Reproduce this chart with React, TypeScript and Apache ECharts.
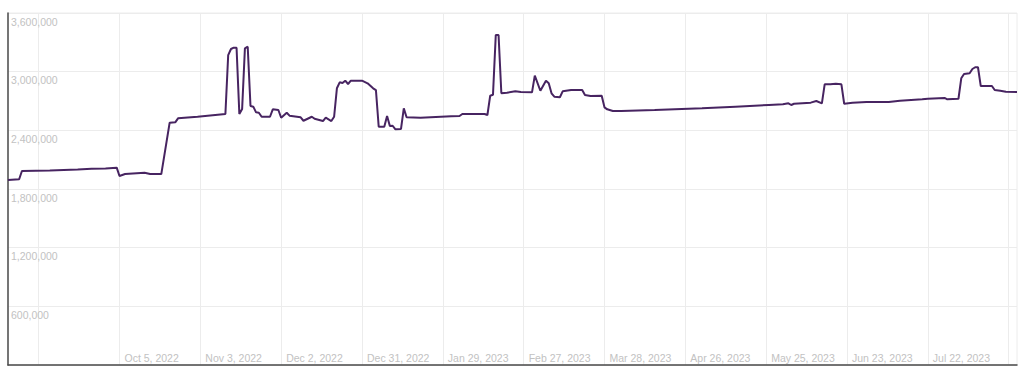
import { useEffect, useRef } from 'react';
import * as echarts from 'echarts';

const START_DATE = '2022-08-26';
const DAY_COUNT = 363;
const GRID_FIRST_DAY = 11;
const GRID_STEP_DAYS = 29;
const LABEL_FIRST_DAY = 40;
const LABEL_LAST_DAY = 330;

const Y_MIN = 0;
const Y_MAX = 3600000;
const Y_STEP = 600000;

const MONTHS = ['Jan', 'Feb', 'Mar', 'Apr', 'May', 'Jun', 'Jul', 'Aug', 'Sep', 'Oct', 'Nov', 'Dec'];

// day offsets from START_DATE of each breakpoint
const dayOffsets = [
  0, 4, 5, 15, 25, 30, 35, 39, 40, 42, 49, 51, 55, 58, 60, 61, 68, 78, 79, 80,
  81, 82, 83, 84, 85, 86, 87, 88, 89, 90, 91, 94, 95, 97, 98, 100, 101, 105, 106, 109,
  110, 113, 114, 116, 117, 118, 119, 120, 121, 122, 123, 127, 129, 131, 132, 133, 135, 136, 137, 138,
  139, 141, 142, 143, 148, 159, 162, 163, 171, 172, 173, 174, 175, 176, 177, 179, 182, 184, 188, 189,
  191, 193, 194, 195, 196, 198, 199, 202, 206, 207, 209, 213, 214, 215, 217, 220, 232, 249, 261, 273,
  278, 280, 281, 282, 288, 290, 292, 293, 295, 297, 299, 300, 303, 308, 316, 320, 328, 330, 336, 337,
  341, 342, 343, 345, 346, 347, 348, 349, 353, 354, 356, 358, 362,
];

const values = [
  1892000, 1900000, 1984000, 1990000, 2000000, 2006000, 2010000, 2018000, 1933000, 1953000,
  1967000, 1953000, 1953000, 2478000, 2482000, 2523000, 2539000, 2567000, 3170000, 3232000,
  3245000, 3245000, 2567000, 2618000, 3239000, 3255000, 2649000, 2642000, 2584000, 2580000,
  2539000, 2539000, 2615000, 2608000, 2529000, 2580000, 2550000, 2533000, 2498000, 2539000,
  2519000, 2495000, 2529000, 2495000, 2539000, 2830000, 2891000, 2884000, 2908000, 2874000,
  2908000, 2908000, 2881000, 2830000, 2812000, 2437000, 2437000, 2547000, 2444000, 2447000,
  2410000, 2414000, 2625000, 2533000, 2529000, 2543000, 2547000, 2567000, 2567000, 2557000,
  2754000, 2764000, 3375000, 3375000, 2779000, 2785000, 2799000, 2792000, 2789000, 2959000,
  2805000, 2908000, 2881000, 2779000, 2744000, 2738000, 2799000, 2812000, 2812000, 2761000,
  2751000, 2754000, 2635000, 2615000, 2598000, 2598000, 2608000, 2625000, 2642000, 2659000,
  2666000, 2676000, 2659000, 2672000, 2683000, 2700000, 2676000, 2871000, 2871000, 2877000,
  2871000, 2672000, 2683000, 2690000, 2690000, 2703000, 2717000, 2723000, 2731000, 2717000,
  2723000, 2932000, 2976000, 2983000, 3027000, 3045000, 3045000, 2853000, 2853000, 2812000,
  2805000, 2795000, 2792000,
];

function buildCategories(): string[] {
  const start = new Date(START_DATE + 'T00:00:00Z').getTime();
  const out: string[] = [];
  for (let i = 0; i < DAY_COUNT; i++) {
    out.push(new Date(start + i * 86400000).toISOString().slice(0, 10));
  }
  return out;
}

function formatDate(s: string): string {
  const d = new Date(s + 'T00:00:00Z');
  return `${MONTHS[d.getUTCMonth()]} ${d.getUTCDate()}, ${d.getUTCFullYear()}`;
}

const isGridDay = (i: number) => i >= GRID_FIRST_DAY && (i - GRID_FIRST_DAY) % GRID_STEP_DAYS === 0;

export default function App() {
  const ref = useRef<HTMLDivElement>(null);

  useEffect(() => {
    document.body.style.margin = '0';
    if (!ref.current) return;
    const chart = echarts.init(ref.current, undefined, { renderer: 'svg' });
    const categories = buildCategories();
    const font = "'Liberation Sans', Arial, Helvetica, sans-serif";
    chart.setOption({
      animation: false,
      backgroundColor: '#ffffff',
      grid: {
        left: 8,
        right: 7,
        top: 13,
        bottom: 14,
        show: true,
        borderColor: '#ececec',
        borderWidth: 1,
        containLabel: false,
      },
      xAxis: {
        type: 'category',
        data: categories,
        boundaryGap: false,
        axisLine: { show: true, lineStyle: { color: '#4a4a4a', width: 1.5 } },
        axisTick: { show: false },
        splitLine: {
          show: true,
          interval: (i: number) => isGridDay(i),
          lineStyle: { color: '#ececec', width: 1 },
        },
        axisLabel: {
          inside: true,
          margin: 2,
          interval: (i: number) => isGridDay(i) && i >= LABEL_FIRST_DAY && i <= LABEL_LAST_DAY,
          align: 'left',
          verticalAlign: 'bottom',
          padding: [0, 0, 0, 5],
          color: '#c2c2c2',
          fontFamily: font,
          fontSize: 10.5,
          formatter: (v: string) => formatDate(v),
        },
      },
      yAxis: {
        type: 'value',
        min: Y_MIN,
        max: Y_MAX,
        interval: Y_STEP,
        axisLine: { show: true, lineStyle: { color: '#4a4a4a', width: 1.5 } },
        axisTick: { show: false },
        splitLine: { show: true, lineStyle: { color: '#ececec', width: 1 } },
        axisLabel: {
          inside: true,
          margin: 3,
          showMinLabel: false,
          align: 'left',
          verticalAlign: 'top',
          padding: [3, 0, 0, 0],
          color: '#c2c2c2',
          fontFamily: font,
          fontSize: 10.5,
          formatter: (v: number) => v.toLocaleString('en-US'),
        },
      },
      series: [
        {
          type: 'line',
          data: dayOffsets.map((d, i) => [d, values[i]]),
          showSymbol: false,
          symbol: 'none',
          lineStyle: { color: '#472461', width: 2 },
          itemStyle: { color: '#472461' },
        },
      ],
    });
    return () => chart.dispose();
  }, []);

  return <div ref={ref} style={{ width: 1024, height: 379 }} />;
}
